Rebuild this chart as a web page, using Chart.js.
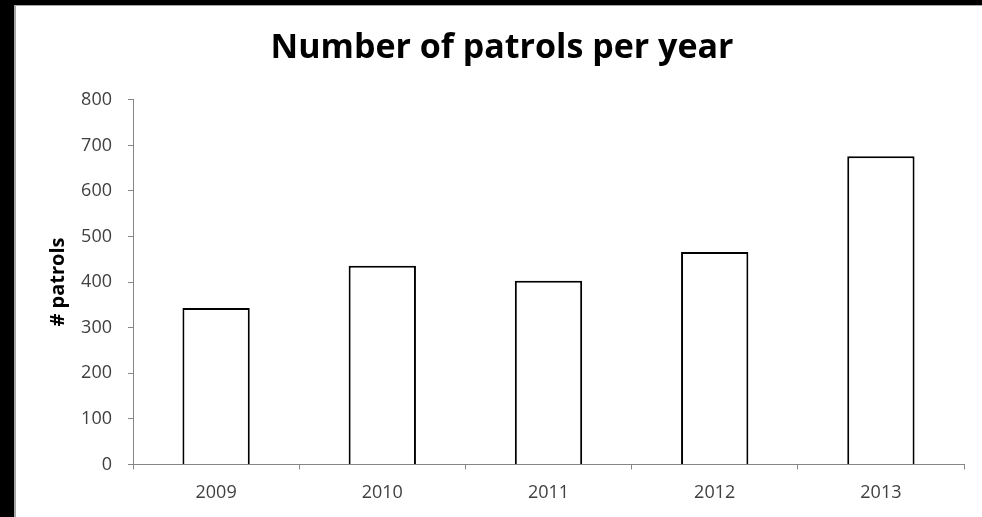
<!DOCTYPE html>
<html lang="en">
<head>
  <meta charset="UTF-8" />
  <title>Number of patrols per year</title>
  <script src="https://cdn.jsdelivr.net/npm/chart.js"></script>
  <style>
    html, body {
      margin: 0;
      padding: 0;
      background: #000;
      overflow: hidden;
    }

    .frame {
      position: absolute;
      left: 14px;
      top: 5px;
      width: 966px;
      height: 511px;
      background: #fff;
      border-left: 2px solid #a6a6a6;
      border-top: 1px solid #a6a6a6;
    }

    canvas {
      display: block;
    }
  </style>
</head>
<body>
  <div class="frame">
    <canvas id="patrolChart" width="966" height="511"></canvas>
  </div>

<script>
const years = ['2009', '2010', '2011', '2012', '2013'];
const patrols = [343, 436, 403, 466, 676];

const axisGrey = '#868686';
const labelColor = '#404040';

new Chart(document.getElementById('patrolChart').getContext('2d'), {
  type: 'bar',
  data: {
    labels: years,
    datasets: [{
      label: '# patrols',
      data: patrols,
      backgroundColor: '#ffffff',
      borderColor: '#000000',
      borderWidth: 2,
      barPercentage: 0.405,
      categoryPercentage: 1
    }]
  },
  options: {
    responsive: false,
    animation: false,
    layout: {
      padding: { left: 24, right: 18, top: 0, bottom: 0 }
    },
    plugins: {
      legend: { display: false },
      tooltip: { enabled: false },
      title: {
        display: true,
        text: 'Number of patrols per year',
        color: '#000',
        font: { family: 'Open Sans', size: 34, weight: 'bold' },
        padding: { top: 22, bottom: 31 }
      }
    },
    scales: {
      x: {
        grid: {
          display: true,
          drawOnChartArea: false,
          drawTicks: true,
          tickLength: 5,
          color: axisGrey
        },
        border: { color: axisGrey, width: 1 },
        ticks: {
          color: labelColor,
          padding: 13,
          font: { family: 'Open Sans', size: 18 }
        }
      },
      y: {
        min: 0,
        max: 800,
        afterFit: scale => { scale.width = 93; },
        grid: {
          display: true,
          drawOnChartArea: false,
          drawTicks: true,
          tickLength: 5,
          color: axisGrey
        },
        border: { color: axisGrey, width: 1 },
        ticks: {
          stepSize: 100,
          color: labelColor,
          padding: 16,
          font: { family: 'Open Sans', size: 18 }
        },
        title: {
          display: true,
          text: '# patrols',
          color: '#000',
          font: { family: 'Open Sans', size: 20, weight: 'bold' },
          padding: { top: 6, bottom: 0 }
        }
      }
    }
  }
});
</script>
</body>
</html>
